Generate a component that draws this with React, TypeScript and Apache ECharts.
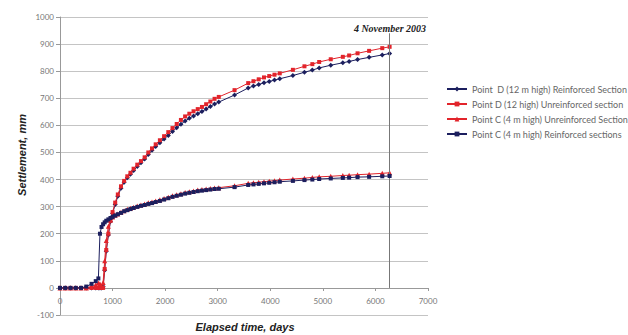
import { useEffect, useRef } from "react";
import * as echarts from "echarts";

const days = [
  0, 100, 200, 300, 400, 500, 600, 680, 730, 760, 790, 820, 850, 880, 920, 960,
  1000, 1050, 1100, 1160, 1220, 1280, 1340, 1400, 1470, 1540, 1610, 1680, 1750,
  1820, 1900, 1980, 2060, 2140, 2220, 2300, 2380, 2460, 2540, 2620, 2700, 2780,
  2860, 2940, 3020, 3320, 3580, 3680, 3780, 3880, 3980, 4080, 4180, 4430, 4650,
  4800, 4930, 5150, 5380, 5500, 5660, 5880, 6130, 6270,
];

const pointDReinforced = [
  0, 0, 0, 0, 0, 0, 0, 0, 0, 0, 0, 5, 65, 135, 195, 245,
  275, 308, 338, 368, 390, 407, 420, 433, 448, 462, 476, 492, 508,
  522, 536, 550, 563, 577, 591, 604, 616, 626, 635, 643, 651, 660,
  670, 679, 686, 712, 738, 745, 751, 757, 762, 767, 772, 784, 796,
  804, 812, 822, 831, 836, 843, 851, 860, 865,
];

const pointDUnreinforced = [
  0, 0, 0, 0, 0, 0, 0, 0, 0, 0, 0, 0, 70, 140, 200, 250,
  280, 315, 345, 375, 395, 412, 425, 440, 455, 468, 482, 500, 515,
  530, 545, 560, 575, 590, 605, 620, 633, 643, 652, 660, 668, 678,
  688, 698, 705, 730, 756, 763, 770, 777, 782, 787, 792, 805, 818,
  826, 834, 844, 853, 858, 866, 875, 885, 890,
];

const pointCUnreinforced = [
  0, 0, 0, 0, 0, 0, 4, 12, 18, 15, 5, 20, 100, 175, 228, 250,
  262, 268, 273, 279, 285, 290, 294, 298, 302, 306, 310, 314, 317,
  321, 325, 330, 335, 340, 344, 348, 352, 355, 358, 361, 363, 365,
  367, 369, 370, 377, 386, 388, 390, 392, 394, 396, 398, 402, 405,
  408, 410, 412, 415, 416, 418, 420, 423, 425,
];

const pointCReinforced = [
  0, 0, 0, 0, 0, 5, 15, 25, 35, 200, 225, 235, 242, 248, 253, 258,
  262, 267, 272, 277, 283, 287, 291, 295, 299, 303, 306, 310, 313,
  317, 321, 326, 331, 336, 340, 344, 348, 351, 354, 357, 359, 361,
  363, 365, 366, 372, 380, 382, 384, 386, 388, 390, 392, 395, 398,
  400, 402, 404, 406, 407, 409, 410, 412, 413,
];

const seriesNames = [
  "Point  D (12 m high) Reinforced Section",
  "Point D (12 high) Unreinforced section",
  "Point C (4 m high) Unreinforced Section",
  "Point C (4 m high) Reinforced sections",
];

const markerDay = 6270;
const markerTop = 940;
const markerText = "4 November 2003";
const xTitle = "Elapsed time, days";
const yTitle = "Settlement, mm";

const NAVY = "#1c1f5e";
const RED = "#e2242b";

const pairs = (vals: number[]) => days.map((d, i) => [d, vals[i]]);

export default function App() {
  const ref = useRef<HTMLDivElement>(null);

  useEffect(() => {
    document.body.style.margin = "0";
    const chart = echarts.init(ref.current!, undefined, { renderer: "svg" });
    const symbols = ["diamond", "rect", "triangle", "rect"];
    const colors = [NAVY, RED, RED, NAVY];
    const sizes = [5, 4, 5, 4];
    const vals = [pointDReinforced, pointDUnreinforced, pointCUnreinforced, pointCReinforced];
    const series: any[] = vals.map((v, i) => ({
      name: seriesNames[i],
      type: "line",
      data: pairs(v),
      symbol: symbols[i],
      symbolSize: sizes[i],
      showSymbol: true,
      color: colors[i],
      itemStyle: { color: colors[i] },
      lineStyle: { color: colors[i], width: 1 },
      z: 2 + i,
    }));
    series[0].markLine = {
      silent: true,
      symbol: "none",
      label: { show: false },
      lineStyle: { color: "#777", width: 1, type: "solid" },
      data: [[{ coord: [markerDay, 0] }, { coord: [markerDay, markerTop] }]],
    };

    chart.setOption({
      animation: false,
      backgroundColor: "#fff",
      grid: { left: 60, right: 200, top: 17, bottom: 20 },
      xAxis: {
        type: "value",
        min: 0,
        max: 7000,
        interval: 1000,
        offset: -27,
        axisLine: { onZero: false, lineStyle: { color: "#999" } },
        axisTick: { show: true, length: 3, lineStyle: { color: "#999" } },
        axisLabel: {
          color: "#777",
          fontSize: 8,
          fontFamily: "Lato",
          margin: 9,
          formatter: (v: number) => String(v),
        },
        splitLine: { show: false },
      },
      yAxis: {
        type: "value",
        min: -100,
        max: 1000,
        interval: 100,
        axisLine: { show: true, lineStyle: { color: "#999" } },
        axisTick: { show: true, length: 4, lineStyle: { color: "#999" } },
        axisLabel: {
          color: "#777",
          fontSize: 8,
          fontFamily: "Lato",
          margin: 6,
          formatter: (v: number) => String(v),
        },
        splitLine: { show: true, lineStyle: { color: "#c4c4c4", width: 1 } },
      },
      legend: {
        orient: "vertical",
        left: 441,
        top: 79,
        itemWidth: 20,
        itemHeight: 6,
        itemGap: 5,
        textStyle: { color: "#666", fontSize: 9, fontFamily: "Lato", lineHeight: 10 },
        data: seriesNames,
      },
      graphic: [
        {
          type: "text",
          x: 390,
          y: 28,
          style: {
            text: markerText,
            fill: "#222",
            font: "italic bold 10px 'Liberation Serif'",
            textAlign: "center",
            textVerticalAlign: "middle",
          },
        },
        {
          type: "text",
          x: 245,
          y: 327,
          style: {
            text: xTitle,
            fill: "#222",
            font: "italic bold 11px 'Liberation Sans'",
            textAlign: "center",
            textVerticalAlign: "middle",
          },
        },
        {
          type: "text",
          x: 22,
          y: 155,
          rotation: Math.PI / 2,
          style: {
            text: yTitle,
            fill: "#222",
            font: "italic bold 11px 'Liberation Sans'",
            textAlign: "center",
            textVerticalAlign: "middle",
          },
        },
      ],
      series,
    });
    return () => chart.dispose();
  }, []);

  return <div ref={ref} style={{ width: 628, height: 335 }} />;
}
